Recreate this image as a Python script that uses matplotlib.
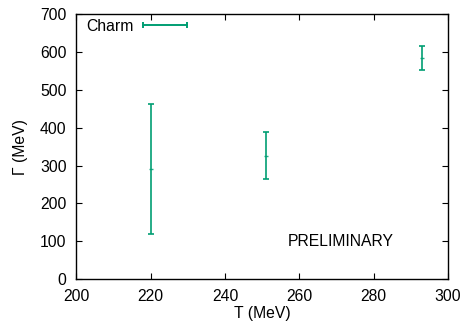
import matplotlib
matplotlib.use("Agg")
import matplotlib.pyplot as plt
from matplotlib.lines import Line2D

# Data
temps = [220, 251, 293]
widths = [290, 326.5, 585]
errors = [172, 61.5, 31]
label = "Charm"
color = "#009e73"

fs = 11.3
plt.rcParams['font.family'] = ['Liberation Sans', 'DejaVu Sans']
plt.rcParams['font.size'] = fs

fig = plt.figure(figsize=(4.63, 3.28), dpi=100)
ax = fig.add_axes([0.165, 0.1494, 0.8026, 0.8070])

ax.errorbar(temps, widths, yerr=errors, fmt='_', color=color, ms=3,
            elinewidth=1.4, capsize=2.5, capthick=1.4, alpha=0.85)

ax.set_xlim(200, 300)
ax.set_ylim(0, 700)
ax.set_xticks(range(200, 301, 20))
ax.set_yticks(range(0, 701, 100))
ax.tick_params(direction='in', top=True, right=True, length=4, width=0.8,
               labelsize=fs, pad=7)
for s in ax.spines.values():
    s.set_linewidth(1.0)

ax.set_xlabel("T (MeV)", labelpad=2)
ax.set_ylabel("Γ (MeV)", labelpad=9)

ax.text(257, 100, "PRELIMINARY", fontsize=fs, va='center', ha='left')

handle = Line2D([], [], color=color, lw=1.4, marker='|', ms=5, mew=1.4)
ax.legend([handle], [label], loc='upper left', bbox_to_anchor=(0.0, 1.018),
          numpoints=2, markerfirst=False,
          frameon=False, handlelength=3.4, handletextpad=0.35,
          borderaxespad=0.3, borderpad=0.3, fontsize=fs)

fig.savefig("out.png", dpi=100)
